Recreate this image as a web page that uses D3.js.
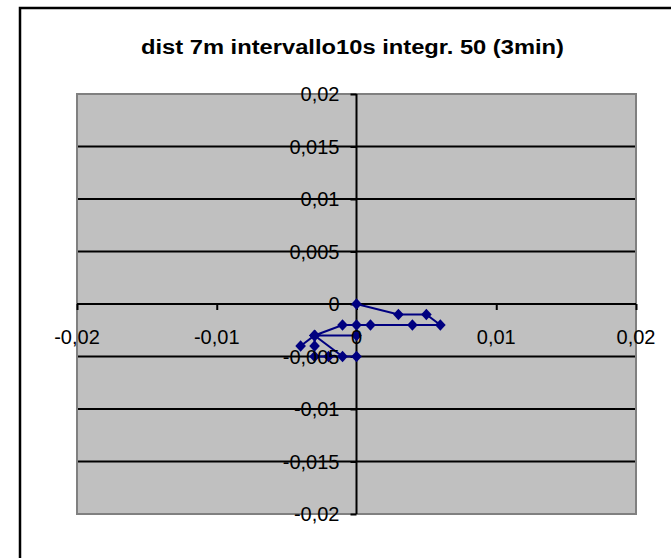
<!DOCTYPE html>
<meta charset="utf-8">
<head>
    <title>dist 7m</title>
    <script src="https://cdn.jsdelivr.net/npm/d3@7"></script>
</head>

<style>
    body { margin: 0; background: #fff; }
    text { font-family: "Liberation Sans", Arial, sans-serif; fill: #000; }
</style>

<svg></svg>

<script>
    var vWidth = 671;
    var vHeight = 558;

    // series values (metres)
    var xValues = [0, 0.003, 0.005, 0.006, 0.004, 0.001, 0, -0.001, -0.003, -0.004, -0.003, -0.003, -0.003, 0, -0.003, -0.001, 0, -0.002, -0.003];
    var yValues = [0, -0.001, -0.001, -0.002, -0.002, -0.002, -0.002, -0.002, -0.003, -0.004, -0.003, -0.004, -0.003, -0.003, -0.003, -0.005, -0.005, -0.005, -0.005];

    var xTicks = [-0.02, -0.01, 0, 0.01, 0.02];
    var xTickLabels = ['-0,02', '-0,01', '0', '0,01', '0,02'];
    var yTicks = [0.02, 0.015, 0.01, 0.005, 0, -0.005, -0.01, -0.015, -0.02];
    var yTickLabels = ['0,02', '0,015', '0,01', '0,005', '0', '-0,005', '-0,01', '-0,015', '-0,02'];

    var vTitle = 'dist 7m intervallo10s integr. 50 (3min)';

    var svg = d3.select('svg').attr('width', vWidth).attr('height', vHeight);

    // chart frame (only left/top edges are inside the picture)
    svg.append('path')
        .attr('d', 'M20,' + vHeight + 'V8H' + vWidth)
        .attr('fill', 'none').attr('stroke', '#000').attr('stroke-width', 2.5);

    var x = d3.scaleLinear().domain([-0.02, 0.02]).range([77, 636]);
    var y = d3.scaleLinear().domain([-0.02, 0.02]).range([514, 94]);

    // plot area
    svg.append('rect')
        .attr('x', x(-0.02)).attr('y', y(0.02))
        .attr('width', x(0.02) - x(-0.02)).attr('height', y(-0.02) - y(0.02))
        .attr('fill', '#c0c0c0').attr('stroke', '#808080').attr('stroke-width', 2);

    // gridlines
    svg.append('g').selectAll('line')
        .data(yTicks.filter(function (d) { return Math.abs(d) < 0.02 && d !== 0; }))
        .enter().append('line')
        .attr('x1', x(-0.02) + 1).attr('x2', x(0.02) - 1)
        .attr('y1', function (d) { return y(d); }).attr('y2', function (d) { return y(d); })
        .attr('stroke', '#000').attr('stroke-width', 2);

    // axes crossing at zero
    var gx = svg.append('g').attr('transform', 'translate(0,' + y(0) + ')')
        .call(d3.axisBottom(x).tickValues(xTicks).tickSize(6).tickFormat(''));
    var gy = svg.append('g').attr('transform', 'translate(' + x(0) + ',0)')
        .call(d3.axisLeft(y).tickValues(yTicks).tickSize(6).tickFormat(''));
    [gx, gy].forEach(function (g) {
        g.select('.domain').attr('stroke', '#000').attr('stroke-width', 2);
        g.selectAll('.tick line').attr('stroke', '#000').attr('stroke-width', 2);
    });
    gy.select('.domain').attr('d', 'M0,' + y(0.02) + 'V' + y(-0.02));
    gx.select('.domain').attr('d', 'M' + x(-0.02) + ',0H' + x(0.02));

    // series
    var pts = xValues.map(function (v, i) { return [v, yValues[i]]; });
    var line = d3.line().x(function (d) { return x(d[0]); }).y(function (d) { return y(d[1]); });
    svg.append('path').datum(pts)
        .attr('d', line).attr('fill', 'none')
        .attr('stroke', '#000080').attr('stroke-width', 2);
    svg.append('g').selectAll('path.mk').data(pts).enter().append('path')
        .attr('class', 'mk')
        .attr('transform', function (d) { return 'translate(' + x(d[0]) + ',' + y(d[1]) + ') scale(1,1.1)'; })
        .attr('d', d3.symbol(d3.symbolDiamond2, 72))
        .attr('fill', '#000080');

    // tick labels
    svg.append('g').selectAll('text').data(yTicks).enter().append('text')
        .attr('x', x(0) - 17).attr('y', function (d) { return y(d) + 7; })
        .attr('text-anchor', 'end').style('font-size', '20px')
        .text(function (d, i) { return yTickLabels[i]; });
    svg.append('g').selectAll('text').data(xTicks.filter(function (d) { return d !== 0; }))
        .enter().append('text')
        .attr('x', function (d) { return x(d); }).attr('y', y(0) + 40)
        .attr('text-anchor', 'middle').style('font-size', '20px')
        .text(function (d) { return xTickLabels[xTicks.indexOf(d)]; });
    svg.append('text')
        .attr('x', x(0)).attr('y', y(0) + 40)
        .attr('text-anchor', 'middle').style('font-size', '20px')
        .text(xTickLabels[2]);

    // title
    svg.append('text')
        .attr('x', 141).attr('y', 54)
        .attr('textLength', 423).attr('lengthAdjust', 'spacingAndGlyphs')
        .style('font-size', '20px').style('font-weight', 'bold')
        .text(vTitle);
</script>
